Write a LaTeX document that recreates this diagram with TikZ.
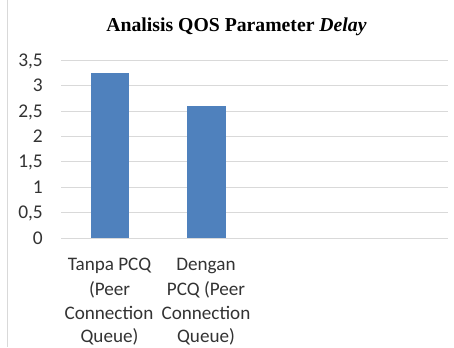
\documentclass[tikz,border=0pt]{standalone}
\usepackage{fontspec}
\setmainfont{Carlito}
\newfontfamily\titlefont{Liberation Serif}
\definecolor{barblue}{HTML}{4F81BD}
\definecolor{gridgray}{HTML}{D9D9D9}
\definecolor{labelgray}{HTML}{333333}
\tikzset{
  gridline/.style={draw=gridgray, line width=0.9bp},
  bar/.style={fill=barblue},
  ticklabel/.style={anchor=base east, inner sep=0pt, font=\fontsize{19.5}{23}\selectfont, text=labelgray},
  catlabel/.style={anchor=base, inner sep=0pt, font=\fontsize{19.2}{23}\selectfont, text=labelgray},
  charttitle/.style={anchor=base, inner sep=0pt, font=\titlefont\bfseries\fontsize{19.8}{24}\selectfont}
}
\begin{document}
\begin{tikzpicture}[x=1bp, y=-1bp]
\useasboundingbox (0,0) rectangle (454,347);
\fill[white] (0,0) rectangle (454,347);
% frame edge on the left
\draw[gridgray, line width=0.9bp] (7,0) -- (7,347);
% title
\node[charttitle] (title) at (236.5,31.5) {Analisis QOS Parameter \textit{Delay}};
% horizontal grid and value labels
\foreach \v/\lab [count=\i] in {0/0, 0.5/{0,5}, 1/1, 1.5/{1,5}, 2/2, 2.5/{2,5}, 3/3, 3.5/{3,5}} {
  \pgfmathsetmacro{\yy}{238-50.71*\v}
  \draw[gridline] (61,\yy) -- (448,\yy);
  \node[ticklabel] (tick\i) at (43,\yy+6) {\lab};
}
% bars
\fill[bar] (90.8,238) rectangle (129.3,72.7);
\fill[bar] (186.8,238) rectangle (225.6,106);
% category labels
\node[catlabel] (c1a) at (109.5,270.5) {Tanpa PCQ};
\node[catlabel] (c1b) at (109.5,295) {(Peer};
\node[catlabel] (c1c) at (109,319) {Connection};
\node[catlabel] (c1d) at (109.5,342) {Queue)};
\node[catlabel] (c2a) at (206,270.5) {Dengan};
\node[catlabel] (c2b) at (206,295) {PCQ (Peer};
\node[catlabel] (c2c) at (206,319) {Connection};
\node[catlabel] (c2d) at (206,342) {Queue)};
\end{tikzpicture}
\end{document}
